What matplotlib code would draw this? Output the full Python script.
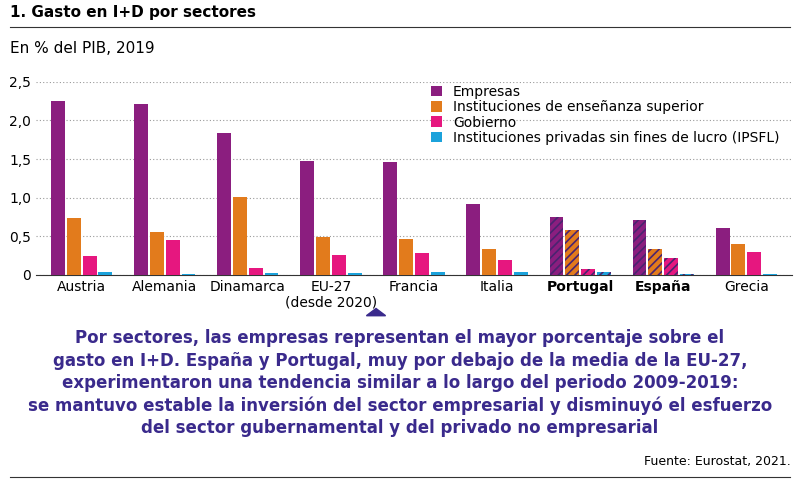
import numpy as np
import matplotlib.pyplot as plt
import matplotlib as mpl

countries = ["Austria", "Alemania", "Dinamarca", "EU-27\n(desde 2020)", "Francia",
             "Italia", "Portugal", "España", "Grecia"]
empresas = [2.25, 2.21, 1.84, 1.48, 1.46, 0.92, 0.75, 0.71, 0.60]
ensenanza = [0.73, 0.56, 1.01, 0.49, 0.46, 0.34, 0.58, 0.34, 0.40]
gobierno = [0.24, 0.45, 0.09, 0.26, 0.28, 0.19, 0.08, 0.22, 0.30]
ipsfl = [0.03, 0.01, 0.02, 0.02, 0.04, 0.03, 0.04, 0.01, 0.01]
series = ["Empresas", "Instituciones de enseñanza superior", "Gobierno",
          "Instituciones privadas sin fines de lucro (IPSFL)"]
colors = ["#8B1E7F", "#E27B1C", "#E6177F", "#1BA2DB"]
highlight = ["Portugal", "España"]

mpl.rcParams['hatch.linewidth'] = 1.2

fig = plt.figure(figsize=(8, 4.82), dpi=100)
ax = fig.add_axes([0.045, 0.43, 0.945, 0.40])
x = np.arange(len(countries))
w = 0.19
for i, (vals, c, lab) in enumerate(zip([empresas, ensenanza, gobierno, ipsfl], colors, series)):
    bars = ax.bar(x + (i - 1.5) * w, vals, w * 0.88, color=c, label=lab, zorder=3)
    for b, name in zip(bars, countries):
        if name in highlight:
            b.set_hatch('////')
            b.set_edgecolor('#4A2470')
            b.set_linewidth(0)
ax.set_xlim(-0.55, len(countries) - 0.45)
ax.set_ylim(0, 2.5)
ax.set_yticks([0, 0.5, 1.0, 1.5, 2.0, 2.5])
ax.set_yticklabels(["0", "0,5", "1,0", "1,5", "2,0", "2,5"], fontsize=10)
ax.set_xticks(x)
ax.set_xticklabels(countries, fontsize=10)
for t in ax.get_xticklabels():
    if t.get_text() in highlight:
        t.set_fontweight('bold')
ax.tick_params(length=0)
ax.yaxis.grid(True, linestyle=(0, (1, 2)), color='#999999', linewidth=0.8)
for s in ['top', 'right', 'left']:
    ax.spines[s].set_visible(False)
ax.spines['bottom'].set_color('#333333')
ax.legend(loc='upper right', bbox_to_anchor=(1.0, 1.05), frameon=False, fontsize=10,
          handlelength=0.8, handleheight=0.8, labelspacing=0.1)

fig.text(0.012, 0.965, "1. Gasto en I+D por sectores", fontsize=11, fontweight='bold')
fig.add_artist(plt.Line2D([0.012, 0.988], [0.945, 0.945], color='#333333', lw=0.8))
fig.text(0.012, 0.89, "En % del PIB, 2019", fontsize=11)

fig.add_artist(plt.Polygon([[0.458, 0.345], [0.482, 0.345], [0.47, 0.36]], color='#3A2A8C'))
fig.text(0.5, 0.205, "Por sectores, las empresas representan el mayor porcentaje sobre el\n"
         "gasto en I+D. España y Portugal, muy por debajo de la media de la EU-27,\n"
         "experimentaron una tendencia similar a lo largo del periodo 2009-2019:\n"
         "se mantuvo estable la inversión del sector empresarial y disminuyó el esfuerzo\n"
         "del sector gubernamental y del privado no empresarial",
         ha='center', va='center', fontsize=12, fontweight='bold', color='#3A2A8C',
         linespacing=1.3)
fig.text(0.988, 0.035, "Fuente: Eurostat, 2021.", ha='right', fontsize=9)
fig.add_artist(plt.Line2D([0.012, 0.988], [0.01, 0.01], color='#333333', lw=0.8))
fig.savefig("out.png")
